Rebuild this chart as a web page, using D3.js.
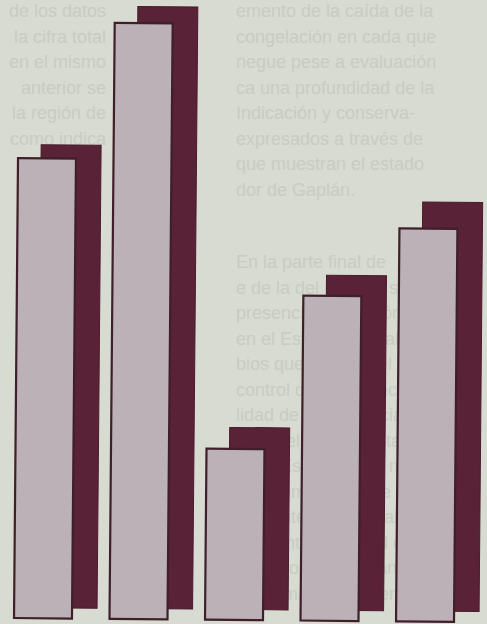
<!DOCTYPE html>
<html>
<head>
<meta charset="utf-8">
<script src="https://cdn.jsdelivr.net/npm/d3@7"></script>
<style>
  html, body { margin: 0; padding: 0; background: #d7dbd1; }
  svg { display: block; }
</style>
</head>
<body>
<script>
// ---- data ----
const categories = ["A", "B", "C", "D", "E"];
const frontValues = [460, 596, 171, 325, 393];
const backValues  = [463, 602, 182, 335, 409];

// faint printed text behind the chart (page of a Spanish publication)
const rightColumnTop = [
  "emento de la caída de la",
  "congelación en cada que",
  "negue pese a evaluación",
  "ca una profundidad de la",
  "Indicación y conserva-",
  "expresados a través de",
  "que muestran el estado",
  "dor de Gaplán.",
];
const rightColumnBottom = [
  "   En la parte final de",
  "e de la del Estudio se",
  "presencia, expresión del",
  "en el Estudio Liberal y",
  "bios que amplían el sis-",
  "control de la provincia",
  "lidad de la existencia",
  "sobre el número total de",
  "en el Estudio de la mis-",
  "que demuestra que los",
  "presentes en el total de",
  "se mantienen en el con-",
  "los datos del año ante-",
  "la misma manera en el.",
];
const leftColumn = [
  "de los datos",
  "la cifra total",
  "en el mismo",
  "anterior se",
  "la región de",
  "como indica",
];

const W = 487, H = 624;
const svg = d3.select("body").append("svg").attr("width", W).attr("height", H);

// background paper
svg.append("rect").attr("width", W).attr("height", H).attr("fill", "#d7dbd1");

// faint background text
const textG = svg.append("g")
  .attr("font-family", "'Liberation Sans', Arial, sans-serif")
  .attr("font-size", 18)
  .attr("fill", "#c8ccc2");
textG.selectAll("text.rt").data(rightColumnTop).join("text")
  .attr("class", "rt").attr("x", 236).attr("y", (d, i) => 17 + i * 25.5).text(d => d);
textG.selectAll("text.rb").data(rightColumnBottom).join("text")
  .attr("class", "rb").attr("x", 236).attr("y", (d, i) => 268 + i * 25.5).text(d => d);
textG.selectAll("text.lc").data(leftColumn).join("text")
  .attr("class", "lc").attr("x", 106).attr("text-anchor", "end")
  .attr("y", (d, i) => 17 + i * 25.5).text(d => d);

// ---- scales ----
const baseline = 620;
const x = d3.scaleBand().domain(categories).range([14, 454]).paddingInner(0.393).paddingOuter(0);
const y = d3.scaleLinear().domain([0, 600]).range([baseline, baseline - 600]);

const chart = svg.append("g").attr("transform", `rotate(0.5, 240, ${baseline})`);

// back (shadow) bars
const back = chart.append("g").attr("transform", "translate(23,-10.5)");
back.selectAll("rect").data(categories).join("rect")
  .attr("x", d => x(d))
  .attr("y", (d, i) => y(backValues[i]))
  .attr("width", x.bandwidth() + 2)
  .attr("height", (d, i) => y(0) - y(backValues[i]))
  .attr("fill", "#5a2237")
  .attr("stroke", "#4a1b2d")
  .attr("stroke-width", 1);

// front bars
const front = chart.append("g");
front.selectAll("rect").data(categories).join("rect")
  .attr("x", d => x(d))
  .attr("y", (d, i) => y(frontValues[i]))
  .attr("width", x.bandwidth())
  .attr("height", (d, i) => y(0) - y(frontValues[i]))
  .attr("fill", "#bbb1b6")
  .attr("stroke", "#3e1f2a")
  .attr("stroke-width", 2.2);
</script>
</body>
</html>
